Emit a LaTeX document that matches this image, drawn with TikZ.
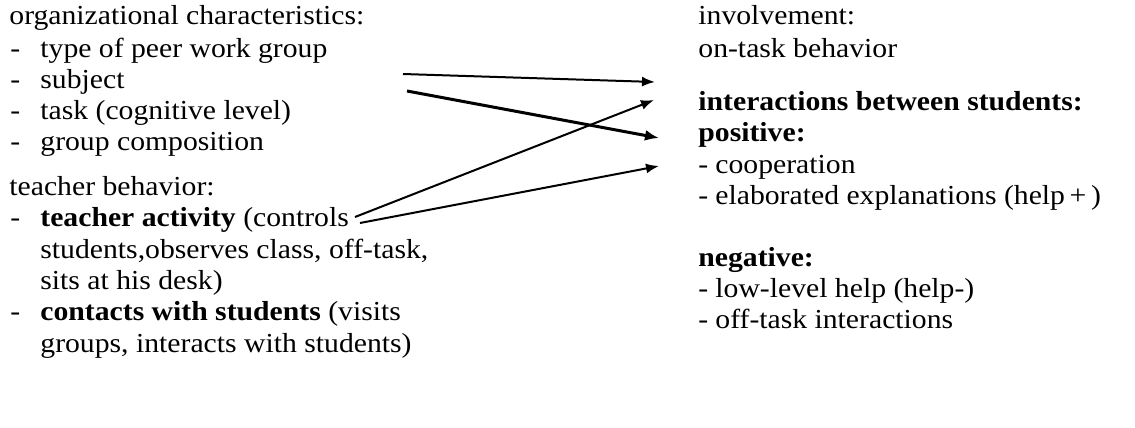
\documentclass[tikz,border=0pt]{standalone}
\usepackage{fontspec}
\setmainfont{Liberation Serif}[FakeStretch=1.08]
\usetikzlibrary{arrows.meta}
\tikzset{
  txt/.style={anchor=base west, inner sep=0pt, font=\fontsize{13.75}{15.5}\selectfont},
  arr/.style={line width=1pt, -{Latex[length=6.5pt,width=5pt]}},
  thickarr/.style={line width=1.5pt, -{Latex[length=7pt,width=5.5pt]}}
}
\begin{document}
\begin{tikzpicture}[x=0.5pt,y=-0.5pt]
\useasboundingbox (0,0) rectangle (1135,428);
% left column
\node[txt] (oc) at (9,25) {organizational characteristics:};
\node[txt] (d1) at (10,57) {-}; \node[txt] (l1) at (40,57) {type of peer work group};
\node[txt] (d2) at (10,88) {-}; \node[txt] (l2) at (40,88) {subject};
\node[txt] (d3) at (10,119) {-}; \node[txt] (l3) at (40,119) {task (cognitive level)};
\node[txt] (d4) at (10,150) {-}; \node[txt] (l4) at (40,150) {group composition};
\node[txt] (tb) at (9,195) {teacher behavior:};
\node[txt] (d5) at (10,226) {-}; \node[txt] (l5) at (40,226) {\textbf{teacher activity} (controls};
\node[txt] (l5b) at (40,258) {students,observes class, off-task,};
\node[txt] (l5c) at (40,289) {sits at his desk)};
\node[txt] (d6) at (10,320) {-}; \node[txt] (l6) at (40,320) {\textbf{contacts with students} (visits};
\node[txt] (l6b) at (40,352) {groups, interacts with students)};
% right column
\node[txt] (inv) at (698,25) {involvement:};
\node[txt] (r1) at (698,57) {on-task behavior};
\node[txt] (ibs) at (698,110) {\textbf{interactions between students:}};
\node[txt] (pos) at (698,141) {\textbf{positive:}};
\node[txt] (r2d) at (698,173) {-}; \node[txt] (r2) at (715,173) {cooperation};
\node[txt] (r3d) at (698,204) {-}; \node[txt] (r3) at (715,204) {elaborated explanations (help\,+\,)};
\node[txt] (neg) at (698,266) {\textbf{negative:}};
\node[txt] (r4d) at (698,297) {-}; \node[txt] (r4) at (715,297) {low-level help (help-)};
\node[txt] (r5d) at (698,328) {-}; \node[txt] (r5) at (715,328) {off-task interactions};
% arrow end points
\coordinate (s1) at (403,74);  \coordinate (e1) at (655,82);
\coordinate (s2) at (407,91);  \coordinate (e2) at (659,138);
\coordinate (s3) at (355,217); \coordinate (e3) at (654,100);
\coordinate (s4) at (360,223); \coordinate (e4) at (659,166);
\draw[arr] (s1) -- (e1);
\draw[thickarr] (s2) -- (e2);
\draw[arr] (s3) -- (e3);
\draw[arr] (s4) -- (e4);
\end{tikzpicture}
\end{document}
